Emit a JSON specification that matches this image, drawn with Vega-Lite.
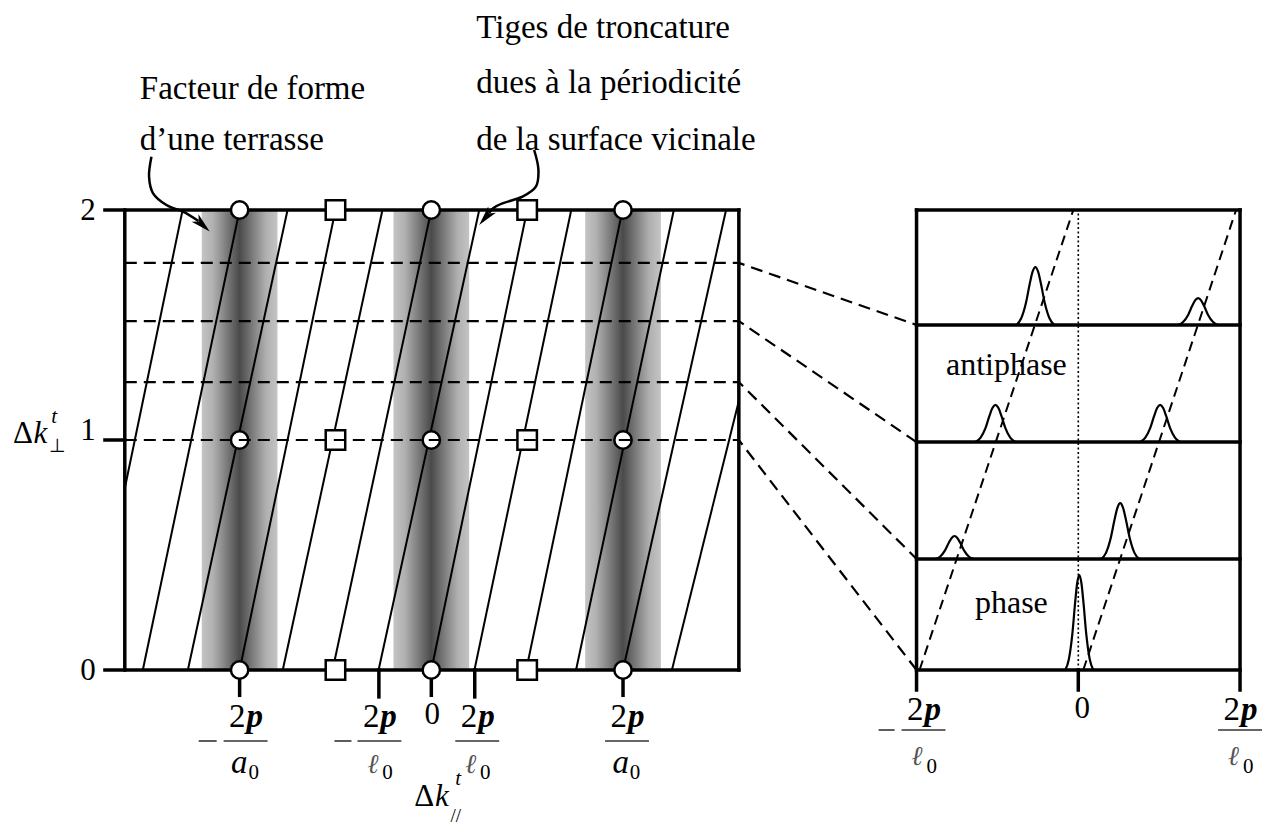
{
  "$schema": "https://vega.github.io/schema/vega-lite/v6.json",
  "width": 1263,
  "height": 830,
  "padding": 0,
  "autosize": {"type": "fit", "contains": "padding"},
  "background": "white",
  "config": {"view": {"stroke": null}},
  "datasets": {
    "bands": [
      {"x": -4.79, "x2": -3.21, "y": 0, "y2": 2},
      {"x": -0.79, "x2": 0.79, "y": 0, "y2": 2},
      {"x": 3.21, "x2": 4.79, "y": 0, "y2": 2}
    ],
    "rods": [
      {"x": -6.396, "y": 0.79, "x2": -5.19, "y2": 2},
      {"x": -6.02, "y": 0, "x2": -4, "y2": 2},
      {"x": -5.08, "y": 0, "x2": -3, "y2": 2},
      {"x": -4, "y": 0, "x2": -2, "y2": 2},
      {"x": -3.1, "y": 0, "x2": -1.02, "y2": 2},
      {"x": -2.06, "y": 0, "x2": 0, "y2": 2},
      {"x": -1.1, "y": 0, "x2": 1, "y2": 2},
      {"x": 0, "y": 0, "x2": 2, "y2": 2},
      {"x": 0.9, "y": 0, "x2": 2.92, "y2": 2},
      {"x": 1.98, "y": 0, "x2": 3.99, "y2": 2},
      {"x": 3.02, "y": 0, "x2": 5.06, "y2": 2},
      {"x": 4, "y": 0, "x2": 6.15, "y2": 2},
      {"x": 5.02, "y": 0, "x2": 6.417, "y2": 1.17}
    ],
    "frame": [
      {"x": -6.81, "y": 2, "x2": 6.417, "y2": 2},
      {"x": -6.81, "y": 0, "x2": 6.417, "y2": 0},
      {"x": -6.81, "y": 1, "x2": -6.396, "y2": 1},
      {"x": -6.396, "y": 0, "x2": -6.396, "y2": 2},
      {"x": 6.417, "y": 0, "x2": 6.417, "y2": 2},
      {"x": -4, "y": 0, "x2": -4, "y2": -0.11},
      {"x": 0, "y": 0, "x2": 0, "y2": -0.11},
      {"x": 4, "y": 0, "x2": 4, "y2": -0.11},
      {"x": -1.094, "y": 0, "x2": -1.094, "y2": -0.117},
      {"x": 0.906, "y": 0, "x2": 0.906, "y2": -0.117},
      {"x": 10.125, "y": -0.087, "x2": 10.125, "y2": 2},
      {"x": 16.875, "y": -0.087, "x2": 16.875, "y2": 2},
      {"x": 13.5, "y": 0, "x2": 13.5, "y2": -0.087},
      {"x": 10.125, "y": 2, "x2": 16.875, "y2": 2},
      {"x": 10.125, "y": 1.5, "x2": 16.875, "y2": 1.5},
      {"x": 10.125, "y": 0.991, "x2": 16.875, "y2": 0.991},
      {"x": 10.125, "y": 0.483, "x2": 16.875, "y2": 0.483},
      {"x": 10.125, "y": 0, "x2": 16.875, "y2": 0}
    ],
    "circles": [
      {"x": -4, "y": 0}, {"x": 0, "y": 0}, {"x": 4, "y": 0},
      {"x": -4, "y": 1}, {"x": 0, "y": 1}, {"x": 4, "y": 1},
      {"x": -4, "y": 2}, {"x": 0, "y": 2}, {"x": 4, "y": 2}
    ],
    "squares": [
      {"x": -2, "y": 0}, {"x": 2, "y": 0},
      {"x": -2, "y": 1}, {"x": 2, "y": 1},
      {"x": -2, "y": 2}, {"x": 2, "y": 2}
    ],
    "hdash": [
      {"id": 1, "o": 1, "x": -6.396, "y": 1.77}, {"id": 1, "o": 2, "x": 6.417, "y": 1.77}, {"id": 1, "o": 3, "x": 10.125, "y": 1.5},
      {"id": 2, "o": 1, "x": -6.396, "y": 1.517}, {"id": 2, "o": 2, "x": 6.417, "y": 1.517}, {"id": 2, "o": 3, "x": 10.125, "y": 0.991},
      {"id": 3, "o": 1, "x": -6.396, "y": 1.252}, {"id": 3, "o": 2, "x": 6.417, "y": 1.252}, {"id": 3, "o": 3, "x": 10.125, "y": 0.483},
      {"id": 4, "o": 1, "x": -6.396, "y": 1.0}, {"id": 4, "o": 2, "x": 6.417, "y": 1.0}, {"id": 4, "o": 3, "x": 10.125, "y": 0}
    ],
    "rdash": [
      {"x": 10.1875, "y": 0, "x2": 13.396, "y2": 2},
      {"x": 13.604, "y": 0, "x2": 16.792, "y2": 2}
    ],
    "dotted": [
      {"x": 13.5, "y": 0, "x2": 13.5, "y2": 2}
    ],
    "peaks": [
      {"id": "A", "o": 1, "x": 12.208, "y": 1.5}, {"id": "A", "o": 2, "x": 12.307, "y": 1.528}, {"id": "A", "o": 3, "x": 12.406, "y": 1.5945}, {"id": "A", "o": 4, "x": 12.485, "y": 1.677}, {"id": "A", "o": 5, "x": 12.545, "y": 1.731}, {"id": "A", "o": 6, "x": 12.604, "y": 1.752}, {"id": "A", "o": 7, "x": 12.663, "y": 1.731}, {"id": "A", "o": 8, "x": 12.723, "y": 1.677}, {"id": "A", "o": 9, "x": 12.802, "y": 1.5945}, {"id": "A", "o": 10, "x": 12.901, "y": 1.528}, {"id": "A", "o": 11, "x": 13.0, "y": 1.5},
      {"id": "B", "o": 1, "x": 15.583, "y": 1.5}, {"id": "B", "o": 2, "x": 15.687, "y": 1.5129}, {"id": "B", "o": 3, "x": 15.792, "y": 1.5439}, {"id": "B", "o": 4, "x": 15.875, "y": 1.5823}, {"id": "B", "o": 5, "x": 15.937, "y": 1.6072}, {"id": "B", "o": 6, "x": 16.0, "y": 1.617}, {"id": "B", "o": 7, "x": 16.063, "y": 1.6072}, {"id": "B", "o": 8, "x": 16.125, "y": 1.5823}, {"id": "B", "o": 9, "x": 16.208, "y": 1.5439}, {"id": "B", "o": 10, "x": 16.313, "y": 1.5129}, {"id": "B", "o": 11, "x": 16.417, "y": 1.5},
      {"id": "C", "o": 1, "x": 11.354, "y": 0.991}, {"id": "C", "o": 2, "x": 11.458, "y": 1.009}, {"id": "C", "o": 3, "x": 11.563, "y": 1.0517}, {"id": "C", "o": 4, "x": 11.646, "y": 1.1045}, {"id": "C", "o": 5, "x": 11.708, "y": 1.1388}, {"id": "C", "o": 6, "x": 11.771, "y": 1.1523}, {"id": "C", "o": 7, "x": 11.834, "y": 1.1388}, {"id": "C", "o": 8, "x": 11.896, "y": 1.1045}, {"id": "C", "o": 9, "x": 11.979, "y": 1.0517}, {"id": "C", "o": 10, "x": 12.084, "y": 1.009}, {"id": "C", "o": 11, "x": 12.188, "y": 0.991},
      {"id": "D", "o": 1, "x": 14.791, "y": 0.991}, {"id": "D", "o": 2, "x": 14.895, "y": 1.009}, {"id": "D", "o": 3, "x": 15.0, "y": 1.0517}, {"id": "D", "o": 4, "x": 15.083, "y": 1.1045}, {"id": "D", "o": 5, "x": 15.145, "y": 1.1388}, {"id": "D", "o": 6, "x": 15.208, "y": 1.1523}, {"id": "D", "o": 7, "x": 15.271, "y": 1.1388}, {"id": "D", "o": 8, "x": 15.333, "y": 1.1045}, {"id": "D", "o": 9, "x": 15.416, "y": 1.0517}, {"id": "D", "o": 10, "x": 15.521, "y": 1.009}, {"id": "D", "o": 11, "x": 15.625, "y": 0.991},
      {"id": "E", "o": 1, "x": 10.521, "y": 0.483}, {"id": "E", "o": 2, "x": 10.62, "y": 0.4936}, {"id": "E", "o": 3, "x": 10.719, "y": 0.5201}, {"id": "E", "o": 4, "x": 10.798, "y": 0.5529}, {"id": "E", "o": 5, "x": 10.858, "y": 0.5742}, {"id": "E", "o": 6, "x": 10.917, "y": 0.5826}, {"id": "E", "o": 7, "x": 10.976, "y": 0.5742}, {"id": "E", "o": 8, "x": 11.036, "y": 0.5529}, {"id": "E", "o": 9, "x": 11.115, "y": 0.5201}, {"id": "E", "o": 10, "x": 11.214, "y": 0.4936}, {"id": "E", "o": 11, "x": 11.313, "y": 0.483},
      {"id": "F", "o": 1, "x": 13.979, "y": 0.483}, {"id": "F", "o": 2, "x": 14.078, "y": 0.5093}, {"id": "F", "o": 3, "x": 14.177, "y": 0.5737}, {"id": "F", "o": 4, "x": 14.256, "y": 0.6534}, {"id": "F", "o": 5, "x": 14.316, "y": 0.7052}, {"id": "F", "o": 6, "x": 14.375, "y": 0.7256}, {"id": "F", "o": 7, "x": 14.434, "y": 0.7052}, {"id": "F", "o": 8, "x": 14.494, "y": 0.6534}, {"id": "F", "o": 9, "x": 14.573, "y": 0.5737}, {"id": "F", "o": 10, "x": 14.672, "y": 0.5093}, {"id": "F", "o": 11, "x": 14.771, "y": 0.483},
      {"id": "G", "o": 1, "x": 13.229, "y": 0}, {"id": "G", "o": 2, "x": 13.302, "y": 0.0454}, {"id": "G", "o": 3, "x": 13.375, "y": 0.1549}, {"id": "G", "o": 4, "x": 13.433, "y": 0.2903}, {"id": "G", "o": 5, "x": 13.477, "y": 0.3783}, {"id": "G", "o": 6, "x": 13.521, "y": 0.413}, {"id": "G", "o": 7, "x": 13.565, "y": 0.3783}, {"id": "G", "o": 8, "x": 13.609, "y": 0.2903}, {"id": "G", "o": 9, "x": 13.667, "y": 0.1549}, {"id": "G", "o": 10, "x": 13.74, "y": 0.0454}, {"id": "G", "o": 11, "x": 13.813, "y": 0}
    ],
    "fracbars": [
      {"x": -4.333, "y": -0.3087, "x2": -3.417, "y2": -0.3087},
      {"x": -1.541, "y": -0.3087, "x2": -0.625, "y2": -0.3087},
      {"x": 0.5, "y": -0.3087, "x2": 1.416, "y2": -0.3087},
      {"x": 3.625, "y": -0.3087, "x2": 4.541, "y2": -0.3087},
      {"x": 9.813, "y": -0.2609, "x2": 10.729, "y2": -0.2609},
      {"x": 16.417, "y": -0.2609, "x2": 17.333, "y2": -0.2609},
      {"x": -4.854, "y": -0.3087, "x2": -4.479, "y2": -0.3087},
      {"x": -2.021, "y": -0.3087, "x2": -1.667, "y2": -0.3087},
      {"x": 9.333, "y": -0.2609, "x2": 9.667, "y2": -0.2609}
    ],
    "curves": [
      {"id": "L", "o": 1, "x": -5.84, "y": 2.2317}, {"id": "L", "o": 2, "x": -5.89, "y": 2.1448}, {"id": "L", "o": 3, "x": -5.806, "y": 2.0726}, {"id": "L", "o": 4, "x": -5.527, "y": 2.0217}, {"id": "L", "o": 5, "x": -5.181, "y": 1.9926}, {"id": "L", "o": 6, "x": -4.86, "y": 1.952},
      {"id": "R", "o": 1, "x": 2.1458, "y": 2.2609}, {"id": "R", "o": 2, "x": 2.2354, "y": 2.1739}, {"id": "R", "o": 3, "x": 2.1813, "y": 2.1013}, {"id": "R", "o": 4, "x": 1.9021, "y": 2.0578}, {"id": "R", "o": 5, "x": 1.4854, "y": 2.0291}, {"id": "R", "o": 6, "x": 1.29, "y": 2.008}, {"id": "R", "o": 7, "x": 1.206, "y": 1.9865}
    ],
    "headL": [{"x": -4.777, "y": 1.9357}],
    "headR": [{"x": 1.1333, "y": 1.9683}],
    "ann": [
      {"x": -6.083, "y": 2.4826, "t": "Facteur de forme"},
      {"x": -6.083, "y": 2.2609, "t": "d’une terrasse"},
      {"x": 0.9375, "y": 2.7478, "t": "Tiges de troncature"},
      {"x": 0.9375, "y": 2.5087, "t": "dues à la périodicité"},
      {"x": 0.9375, "y": 2.2609, "t": "de la surface vicinale"}
    ],
    "phases": [
      {"x": 12.0, "y": 1.2826, "t": "antiphase"},
      {"x": 12.104, "y": 0.2478, "t": "phase"}
    ],
    "yticks": [
      {"x": -7.0, "y": 1.9565, "t": "2"},
      {"x": -7.0, "y": 1.0, "t": "1"},
      {"x": -7.0, "y": -0.0435, "t": "0"}
    ],
    "num2": [
      {"x": -3.875, "y": -0.2478, "t": "2"},
      {"x": -1.083, "y": -0.2478, "t": "2"},
      {"x": 0.958, "y": -0.2478, "t": "2"},
      {"x": 4.083, "y": -0.2478, "t": "2"},
      {"x": 10.271, "y": -0.2174, "t": "2"},
      {"x": 16.875, "y": -0.2174, "t": "2"}
    ],
    "numP": [
      {"x": -3.855, "y": -0.2478, "t": "p"},
      {"x": -1.063, "y": -0.2478, "t": "p"},
      {"x": 0.978, "y": -0.2478, "t": "p"},
      {"x": 4.103, "y": -0.2478, "t": "p"},
      {"x": 10.291, "y": -0.2174, "t": "p"},
      {"x": 16.895, "y": -0.2174, "t": "p"}
    ],
    "denA": [
      {"x": -3.835, "y": -0.4478, "t": "a"},
      {"x": 4.123, "y": -0.4478, "t": "a"}
    ],
    "denL": [
      {"x": -1.103, "y": -0.4478, "t": "ℓ"},
      {"x": 0.938, "y": -0.4478, "t": "ℓ"},
      {"x": 10.251, "y": -0.413, "t": "ℓ"},
      {"x": 16.855, "y": -0.413, "t": "ℓ"}
    ],
    "sub0": [
      {"x": -3.815, "y": -0.4739, "t": "0"},
      {"x": -1.023, "y": -0.4739, "t": "0"},
      {"x": 1.018, "y": -0.4739, "t": "0"},
      {"x": 4.143, "y": -0.4739, "t": "0"},
      {"x": 10.331, "y": -0.4478, "t": "0"},
      {"x": 16.935, "y": -0.4478, "t": "0"}
    ],
    "zeros": [
      {"x": 0.0208, "y": -0.2348, "t": "0"},
      {"x": 13.583, "y": -0.2087, "t": "0"}
    ],
    "deltas": [
      {"x": -8.729, "y": 0.987, "t": "Δ"},
      {"x": -0.354, "y": -0.5913, "t": "Δ"}
    ],
    "ks": [
      {"x": -8.3, "y": 0.987, "t": "k"},
      {"x": 0.075, "y": -0.5913, "t": "k"}
    ],
    "sups": [
      {"x": -7.93, "y": 1.0739, "t": "t"},
      {"x": 0.5, "y": -0.5, "t": "t"}
    ],
    "subs": [
      {"x": -7.98, "y": 0.9478, "t": "⊥"},
      {"x": 0.4, "y": -0.661, "t": "//"}
    ]
  },
  "encoding": {
    "x": {"field": "x", "type": "quantitative", "scale": {"domain": [-9, 17.3125], "nice": false, "zero": false}, "axis": null},
    "y": {"field": "y", "type": "quantitative", "scale": {"domain": [-0.69565, 2.91304], "nice": false, "zero": false}, "axis": null}
  },
  "layer": [
    {
      "data": {"name": "bands"},
      "mark": {"type": "rect", "color": {"gradient": "linear", "x1": 0, "y1": 0, "x2": 1, "y2": 0, "stops": [
        {"offset": 0, "color": "#c4c4c4"},
        {"offset": 0.15, "color": "#b0b0b0"},
        {"offset": 0.5, "color": "#4a4a4a"},
        {"offset": 0.85, "color": "#b0b0b0"},
        {"offset": 1, "color": "#c4c4c4"}
      ]}},
      "encoding": {"x2": {"field": "x2"}, "y2": {"field": "y2"}}
    },
    {
      "data": {"name": "rods"},
      "mark": {"type": "rule", "color": "black", "strokeWidth": 2},
      "encoding": {"x2": {"field": "x2"}, "y2": {"field": "y2"}}
    },
    {
      "data": {"name": "frame"},
      "mark": {"type": "rule", "color": "black", "strokeWidth": 3.5, "strokeCap": "square"},
      "encoding": {"x2": {"field": "x2"}, "y2": {"field": "y2"}}
    },
    {
      "data": {"name": "circles"},
      "mark": {"type": "point", "shape": "circle", "filled": true, "fill": "white", "stroke": "black", "strokeWidth": 2.5, "size": 300, "opacity": 1}
    },
    {
      "data": {"name": "squares"},
      "mark": {"type": "point", "shape": "square", "filled": true, "fill": "white", "stroke": "black", "strokeWidth": 2.5, "size": 380, "opacity": 1}
    },
    {
      "data": {"name": "hdash"},
      "mark": {"type": "line", "color": "black", "strokeWidth": 2.2, "strokeDash": [12, 7]},
      "encoding": {"detail": {"field": "id", "type": "nominal"}, "order": {"field": "o", "type": "quantitative"}}
    },
    {
      "data": {"name": "rdash"},
      "mark": {"type": "rule", "color": "black", "strokeWidth": 2, "strokeDash": [10, 6]},
      "encoding": {"x2": {"field": "x2"}, "y2": {"field": "y2"}}
    },
    {
      "data": {"name": "dotted"},
      "mark": {"type": "rule", "color": "black", "strokeWidth": 1.6, "strokeDash": [2, 2.5]},
      "encoding": {"x2": {"field": "x2"}, "y2": {"field": "y2"}}
    },
    {
      "data": {"name": "peaks"},
      "mark": {"type": "line", "color": "black", "strokeWidth": 2.2, "interpolate": "monotone"},
      "encoding": {"detail": {"field": "id", "type": "nominal"}, "order": {"field": "o", "type": "quantitative"}}
    },
    {
      "data": {"name": "fracbars"},
      "mark": {"type": "rule", "color": "#333333", "strokeWidth": 1.6},
      "encoding": {"x2": {"field": "x2"}, "y2": {"field": "y2"}}
    },
    {
      "data": {"name": "curves"},
      "mark": {"type": "line", "color": "black", "strokeWidth": 2.5, "interpolate": "catmull-rom"},
      "encoding": {"detail": {"field": "id", "type": "nominal"}, "order": {"field": "o", "type": "quantitative"}}
    },
    {
      "data": {"name": "headL"},
      "mark": {"type": "point", "shape": "M0,-1L0.5,1L0,0.5L-0.5,1Z", "filled": true, "color": "black", "size": 400, "angle": 133, "opacity": 1, "strokeWidth": 0}
    },
    {
      "data": {"name": "headR"},
      "mark": {"type": "point", "shape": "M0,-1L0.5,1L0,0.5L-0.5,1Z", "filled": true, "color": "black", "size": 400, "angle": 220, "opacity": 1, "strokeWidth": 0}
    },
    {
      "data": {"name": "ann"},
      "mark": {"type": "text", "font": "Liberation Serif", "fontSize": 33, "align": "left", "baseline": "alphabetic", "color": "black"},
      "encoding": {"text": {"field": "t"}}
    },
    {
      "data": {"name": "phases"},
      "mark": {"type": "text", "font": "Liberation Serif", "fontSize": 32, "align": "center", "baseline": "alphabetic", "color": "black"},
      "encoding": {"text": {"field": "t"}}
    },
    {
      "data": {"name": "yticks"},
      "mark": {"type": "text", "font": "Liberation Serif", "fontSize": 31, "align": "right", "baseline": "alphabetic", "color": "black"},
      "encoding": {"text": {"field": "t"}}
    },
    {
      "data": {"name": "num2"},
      "mark": {"type": "text", "font": "Liberation Serif", "fontSize": 33, "align": "right", "baseline": "alphabetic", "color": "black"},
      "encoding": {"text": {"field": "t"}}
    },
    {
      "data": {"name": "numP"},
      "mark": {"type": "text", "font": "Liberation Serif", "fontSize": 33, "fontStyle": "italic", "fontWeight": "bold", "align": "left", "baseline": "alphabetic", "color": "black"},
      "encoding": {"text": {"field": "t"}}
    },
    {
      "data": {"name": "denA"},
      "mark": {"type": "text", "font": "Liberation Serif", "fontSize": 33, "fontStyle": "italic", "align": "right", "baseline": "alphabetic", "color": "black"},
      "encoding": {"text": {"field": "t"}}
    },
    {
      "data": {"name": "denL"},
      "mark": {"type": "text", "font": "DejaVu Serif", "fontSize": 27, "fontStyle": "italic", "fontWeight": "normal", "align": "right", "baseline": "alphabetic", "color": "#555555"},
      "encoding": {"text": {"field": "t"}}
    },
    {
      "data": {"name": "sub0"},
      "mark": {"type": "text", "font": "Liberation Serif", "fontSize": 21, "align": "left", "baseline": "alphabetic", "color": "black"},
      "encoding": {"text": {"field": "t"}}
    },
    {
      "data": {"name": "zeros"},
      "mark": {"type": "text", "font": "Liberation Serif", "fontSize": 31, "align": "center", "baseline": "alphabetic", "color": "black"},
      "encoding": {"text": {"field": "t"}}
    },
    {
      "data": {"name": "deltas"},
      "mark": {"type": "text", "font": "Liberation Serif", "fontSize": 31, "align": "left", "baseline": "alphabetic", "color": "black"},
      "encoding": {"text": {"field": "t"}}
    },
    {
      "data": {"name": "ks"},
      "mark": {"type": "text", "font": "Liberation Serif", "fontSize": 31, "fontStyle": "italic", "align": "left", "baseline": "alphabetic", "color": "black"},
      "encoding": {"text": {"field": "t"}}
    },
    {
      "data": {"name": "sups"},
      "mark": {"type": "text", "font": "Liberation Serif", "fontSize": 21, "fontStyle": "italic", "align": "left", "baseline": "alphabetic", "color": "black"},
      "encoding": {"text": {"field": "t"}}
    },
    {
      "data": {"name": "subs"},
      "mark": {"type": "text", "font": "Liberation Serif", "fontSize": 19, "align": "left", "baseline": "alphabetic", "color": "black"},
      "encoding": {"text": {"field": "t"}}
    }
  ]
}
